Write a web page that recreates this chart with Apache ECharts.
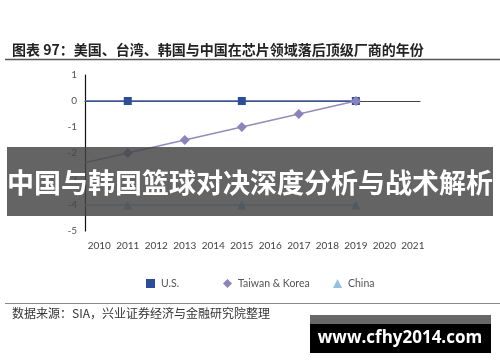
<!DOCTYPE html>
<html><head><meta charset="utf-8">
<script src="https://cdn.jsdelivr.net/npm/echarts@6/dist/echarts.min.js"></script>
<style>html,body{margin:0;padding:0;background:#fff}#c{width:500px;height:362px}</style>
</head><body><div id="c"></div>
<script>
const titleText = '图表 97：美国、台湾、韩国与中国在芯片领域落后顶级厂商的年份';
const sourceText = '数据来源：SIA，兴业证券经济与金融研究院整理';
const bannerText = '中国与韩国篮球对决深度分析与战术解析';
const watermarkText = 'www.cfhy2014.com';
const seriesNames = ['U.S.', 'Taiwan & Korea', 'China'];
const usYears = [2009.5, 2011, 2015, 2019];
const usValues = [0, 0, 0, 0];
const twYears = [2009.5, 2011, 2013, 2015, 2017, 2019];
const twValues = [-2.37, -2, -1.5, -1, -0.5, 0];
const cnYears = [2009.5, 2011, 2015, 2019];
const cnValues = [-4, -4, -4, -4];
const xMin = 2009.5, xMax = 2021.25;
const yMin = -5, yMax = 1;

function pts(xs, ys) {
  return xs.map((x, i) => (i === 0 ? {value: [x, ys[i]], symbol: 'none'} : {value: [x, ys[i]]}));
}

const chart = echarts.init(document.getElementById('c'), null, {renderer: 'canvas'});
const lblFont = 'Lato, "Open Sans", sans-serif';
chart.setOption({
  animation: false,
  grid: {left: 85, right: 80, top: 75, bottom: 131},
  xAxis: {
    type: 'value', min: xMin, max: xMax, interval: 0.5,
    axisLine: {show: true, lineStyle: {color: '#444', width: 1.2}},
    axisTick: {show: false}, splitLine: {show: false},
    axisLabel: {color: '#444', fontSize: 10, fontFamily: lblFont, margin: 10,
      formatter: v => (Math.abs(v - Math.round(v)) < 1e-6 ? String(Math.round(v)) : '')}
  },
  yAxis: {
    type: 'value', min: yMin, max: yMax, interval: 1,
    axisLine: {show: true, lineStyle: {color: '#111', width: 1.2}},
    axisTick: {show: false}, splitLine: {show: false},
    axisLabel: {color: '#555', fontSize: 10, fontFamily: lblFont, margin: 8}
  },
  legend: [
    {data: [{name: seriesNames[0], icon: 'rect'}], left: 141, top: 273},
    {data: [{name: seriesNames[1], icon: 'diamond'}], left: 218, top: 273},
    {data: [{name: seriesNames[2], icon: 'triangle'}], left: 328, top: 273}
  ].map(l => Object.assign(l, {itemWidth: 9, itemHeight: 9, itemGap: 6,
      textStyle: {color: '#555', fontSize: 10.5, fontFamily: lblFont, padding: [0, 0, 0, 1]}})),
  series: [
    {name: seriesNames[0], type: 'line', data: pts(usYears, usValues), symbol: 'rect', symbolSize: 8,
      itemStyle: {color: '#2a4d9e'}, lineStyle: {color: '#3a5aa8', width: 1.5}, z: 2},
    {name: seriesNames[1], type: 'line', data: pts(twYears, twValues), symbol: 'diamond', symbolSize: [10, 10],
      itemStyle: {color: '#8c82bd'}, lineStyle: {color: '#938bc0', width: 1.5}, z: 3},
    {name: seriesNames[2], type: 'line', data: pts(cnYears, cnValues), symbol: 'triangle', symbolSize: [9, 9],
      itemStyle: {color: '#8ec3e3'}, lineStyle: {color: '#9ccbe6', width: 1.5}, z: 2}
  ],
  graphic: [
    {type: 'text', left: 12, top: 43, z: 10,
      style: {text: titleText, fill: '#222', font: 'bold 14px "Noto Sans CJK SC", sans-serif'}},
    {type: 'line', z: 10, shape: {x1: 5, y1: 59.5, x2: 500, y2: 59.5}, style: {stroke: '#555', lineWidth: 1.5}},
    {type: 'line', z: 10, shape: {x1: 5, y1: 303.5, x2: 500, y2: 303.5}, style: {stroke: '#888', lineWidth: 1.2}},
    {type: 'text', left: 12, top: 307, z: 10,
      style: {text: sourceText, fill: '#333', font: '12px "Noto Sans CJK SC", serif'}},
    {type: 'rect', z: 20, shape: {x: 7, y: 147, width: 486, height: 69},
      style: {fill: 'rgba(68,68,68,0.83)'}},
    {type: 'text', z: 21, x: 250, y: 183,
      style: {text: bannerText, fill: '#fff', font: 'bold 27px "Noto Sans CJK SC", sans-serif',
        textAlign: 'center', textVerticalAlign: 'middle'}},
    {type: 'rect', z: 20, shape: {x: 310, y: 315, width: 181, height: 38}, style: {fill: '#000'}},
    {type: 'rect', z: 21, shape: {x: 310, y: 315, width: 181, height: 9}, style: {fill: '#676767'}},
    {type: 'text', z: 22, x: 400, y: 338,
      style: {text: watermarkText, fill: '#fff', font: 'bold 17px "Open Sans", sans-serif',
        textAlign: 'center', textVerticalAlign: 'middle'}}
  ]
});
</script></body></html>
